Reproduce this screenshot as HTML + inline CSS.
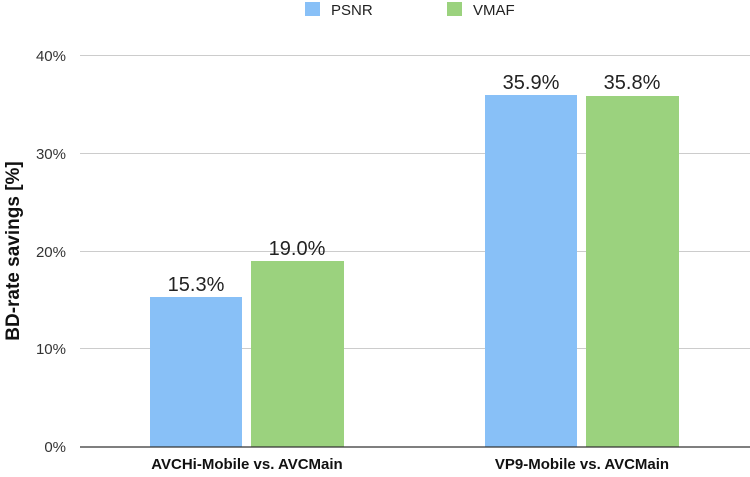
<!DOCTYPE html>
<html><head><style>body{margin:0;background:#fff}</style></head><body>
<svg width="750" height="472" xmlns="http://www.w3.org/2000/svg" font-family="Liberation Sans, sans-serif">
<rect width="750" height="472" fill="#fff"/>
<rect x="305" y="2" width="15" height="14" fill="#88c0f7"/>
<text x="331" y="15" font-size="15" fill="#222">PSNR</text>
<rect x="447" y="2" width="15" height="14" fill="#9bd27e"/>
<text x="473" y="15" font-size="15" fill="#222">VMAF</text>
<g stroke="#ccc" stroke-width="1">
<line x1="80" y1="55.5" x2="750" y2="55.5"/>
<line x1="80" y1="153.5" x2="750" y2="153.5"/>
<line x1="80" y1="251.5" x2="750" y2="251.5"/>
<line x1="80" y1="348.5" x2="750" y2="348.5"/>
</g>
<g font-size="15" fill="#333" text-anchor="end">
<text x="66" y="61">40%</text>
<text x="66" y="159">30%</text>
<text x="66" y="257">20%</text>
<text x="66" y="354">10%</text>
<text x="66" y="452">0%</text>
</g>
<rect x="150" y="297" width="92" height="150" fill="#88c0f7"/>
<rect x="251" y="261" width="93" height="186" fill="#9bd27e"/>
<rect x="485" y="95" width="92" height="352" fill="#88c0f7"/>
<rect x="586" y="96" width="93" height="351" fill="#9bd27e"/>
<line x1="80" y1="447" x2="750" y2="447" stroke="#333" stroke-width="1.2"/>
<g font-size="20" fill="#222" text-anchor="middle">
<text x="196" y="291">15.3%</text>
<text x="297" y="255">19.0%</text>
<text x="531" y="89">35.9%</text>
<text x="632" y="89">35.8%</text>
</g>
<g font-size="15" font-weight="bold" fill="#111" text-anchor="middle">
<text x="247" y="469">AVCHi-Mobile vs. AVCMain</text>
<text x="582" y="469">VP9-Mobile vs. AVCMain</text>
</g>
<text transform="translate(19,251) rotate(-90)" font-size="19" font-weight="bold" fill="#111" text-anchor="middle">BD-rate savings [%]</text>
</svg>
</body></html>
